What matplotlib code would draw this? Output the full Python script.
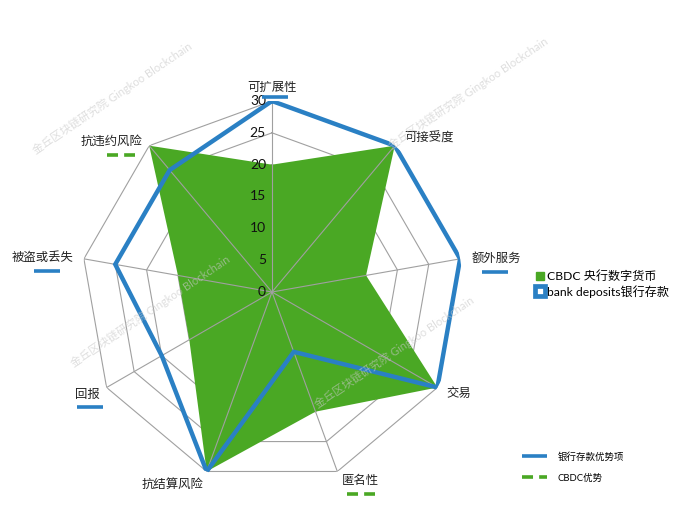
import numpy as np
import matplotlib
matplotlib.use('Agg')
import matplotlib.pyplot as plt
from matplotlib.lines import Line2D
from matplotlib.transforms import IdentityTransform

plt.rcParams['font.family'] = ['Lato', 'Noto Sans CJK SC', 'DejaVu Sans']

# data
categories = ['可扩展性', '可接受度', '额外服务', '交易', '匿名性',
              '抗结算风险', '回报', '被盗或丢失', '抗违约风险']
cbdc = [20, 30, 15, 30, 20, 30, 15, 15, 30]
bank = [30, 30, 30, 30, 10, 30, 20, 25, 25]
levels = [0, 5, 10, 15, 20, 25, 30]
# which side wins on each axis ('bank', 'cbdc' or None)
advantage = ['bank', None, 'bank', None, 'cbdc', None, 'bank', 'bank', 'cbdc']

GREEN = '#4aa824'
BLUE = '#2a80c4'
GRID = '#a0a0a0'

W, H = 694, 521
fig = plt.figure(figsize=(W / 100, H / 100), dpi=100)

cx, cy, rad = 272, 292, 191
ax = fig.add_axes([(cx - rad) / W, (H - cy - rad) / H, 2 * rad / W, 2 * rad / H],
                  projection='polar')
ax.set_theta_zero_location('N')
ax.set_theta_direction(-1)
ax.set_ylim(0, 30)
ax.set_xticks([])
ax.set_yticks([])
ax.grid(False)
ax.spines['polar'].set_visible(False)
ax.patch.set_visible(False)

n = len(categories)
theta = np.arange(n) * 2 * np.pi / n
theta_c = np.append(theta, theta[0])

# rings sit under the fill, spokes on top of it
for lv in levels[1:]:
    ax.plot(theta_c, [lv] * (n + 1), color=GRID, lw=0.8, zorder=1)
ax.fill(theta_c, cbdc + cbdc[:1], color=GREEN, lw=0, zorder=2)
for t in theta:
    ax.plot([t, t], [0, 30], color=GRID, lw=0.8, zorder=3)

ax.plot(theta_c, bank + bank[:1], color=BLUE, lw=3.2, zorder=4,
        solid_joinstyle='miter')

for lv in levels:
    ax.annotate(str(lv), xy=(0, lv), xytext=(-6, 0), textcoords='offset pixels',
                ha='right', va='center', fontsize=10, color='#111111', zorder=5)

# label offsets (pixels from the outer vertex) and alignment
label_pos = [(0, 7, 'center', 'bottom'), (9, 7, 'left', 'center'),
             (11, 0, 'left', 'center'), (9, -6, 'left', 'center'),
             (23, -9, 'center', 'center'), (-34, -13, 'center', 'center'),
             (-19, -7, 'center', 'center'), (-10, 1, 'right', 'center'),
             (-7, 4, 'right', 'center')]
# marker offsets under labels (centre x, y, in pixels from the vertex)
mark_pos = [(3, 4), None, (35, -13), None, (24, -23), None, (-17, -19),
            (-37, -12), (-28, -9)]

fig.canvas.draw()
for i, lab in enumerate(categories):
    dx, dy, ha, va = label_pos[i]
    ax.annotate(lab, xy=(theta[i], 30), xytext=(dx, dy), textcoords='offset pixels',
                ha=ha, va=va, fontsize=8.9, color='#222222',
                family=['Noto Sans CJK SC'], annotation_clip=False)
    if advantage[i] is None:
        continue
    vx, vy = ax.transData.transform((theta[i], 30))
    mx, my = mark_pos[i]
    if advantage[i] == 'bank':
        fig.add_artist(Line2D([vx + mx - 13, vx + mx + 13], [vy + my, vy + my],
                              transform=IdentityTransform(), color=BLUE, lw=2.6,
                              solid_capstyle='butt'))
    else:
        fig.add_artist(Line2D([vx + mx - 14, vx + mx + 14], [vy + my, vy + my],
                              transform=IdentityTransform(), color=GREEN, lw=2.6,
                              dashes=(3.05, 1.7), dash_capstyle='butt'))

# series legend
h1 = Line2D([], [], marker='s', ls='none', color=GREEN, markersize=5.5)
h2 = Line2D([], [], marker='s', ls='none', markerfacecolor='white',
            markeredgecolor=BLUE, markeredgewidth=3.4, markersize=7.5)
fig.legend([h1, h2], ['CBDC 央行数字货币', 'bank deposits银行存款'],
           loc='upper left', bbox_to_anchor=(535 / W, 1 - 270 / H),
           frameon=False, fontsize=8.7, handlelength=0.8, handletextpad=0.2,
           borderpad=0, borderaxespad=0, labelspacing=0.25)

# advantage legend
h3 = Line2D([], [], color=BLUE, lw=2.6, solid_capstyle='butt')
h4 = Line2D([], [], color=GREEN, lw=2.6, dashes=(3.05, 1.7), dash_capstyle='butt')
fig.legend([h3, h4], ['银行存款优势项', 'CBDC优势'],
           loc='upper left', bbox_to_anchor=(522 / W, 1 - 452 / H),
           frameon=False, fontsize=6.8, handlelength=2.6, handletextpad=1.2,
           borderpad=0, borderaxespad=0, labelspacing=1.25)

# watermark
wm = '金丘区块链研究院 Gingkoo Blockchain'
for x, y in [(112, 98), (468, 93), (150, 311), (394, 352)]:
    fig.text(x / W, 1 - y / H, wm, rotation=34, rotation_mode='anchor',
             ha='center', va='center', fontsize=8, color='#c8c8c8', alpha=0.6,
             zorder=10)

fig.savefig('out.png', dpi=100)
